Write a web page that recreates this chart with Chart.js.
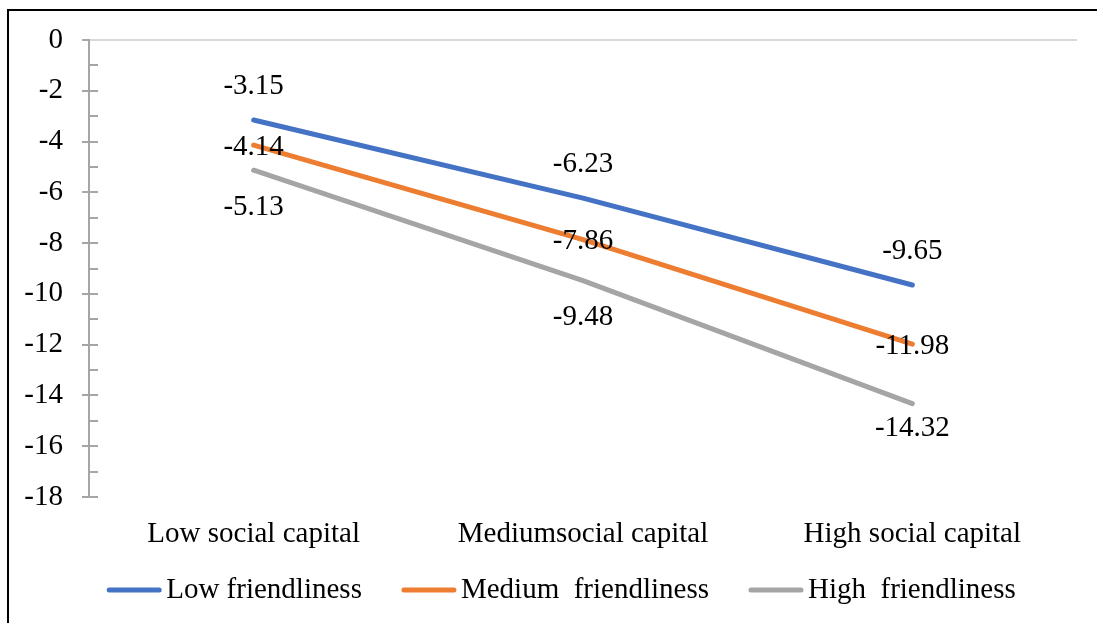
<!DOCTYPE html>
<html>
<head>
<meta charset="utf-8">
<title>Friendliness and social capital</title>
<script src="https://cdn.jsdelivr.net/npm/chart.js@4/dist/chart.umd.min.js"></script>
<style>
  html, body { margin: 0; padding: 0; background: #fff; overflow: hidden; }
  #wrap { position: relative; width: 1097px; height: 623px; overflow: hidden; }
  #frame { position: absolute; left: 7px; top: 9px; width: 1200px; height: 700px;
           border-left: 2px solid #000; border-top: 2px solid #000; }
  #chart { position: absolute; left: 0; top: 0; }
</style>
</head>
<body>
<div id="wrap">
  <div id="frame"></div>
  <canvas id="chart" width="1097" height="623"></canvas>
</div>
<script>
// Categories along the x axis
const categories = ['Low social capital', 'Mediumsocial capital', 'High social capital'];

// One series per friendliness level
const seriesNames = ['Low friendliness', 'Medium  friendliness', 'High  friendliness'];
const lowFriendliness = [-3.15, -6.23, -9.65];
const mediumFriendliness = [-4.14, -7.86, -11.98];
const highFriendliness = [-5.13, -9.48, -14.32];

// Value axis range
const yMin = -18;
const yMax = 0;
const yStep = 2;

const FONT_FAMILY = '"Liberation Serif", "Times New Roman", serif';
const FONT_SIZE = 29;

// Value labels next to each point (above / on / below the line)
const valueLabels = {
  id: 'valueLabels',
  afterDatasetsDraw(chart) {
    const ctx = chart.ctx;
    ctx.save();
    ctx.font = FONT_SIZE + 'px ' + FONT_FAMILY;
    ctx.fillStyle = '#000';
    ctx.textAlign = 'center';
    ctx.textBaseline = 'middle';
    chart.data.datasets.forEach((ds, i) => {
      const meta = chart.getDatasetMeta(i);
      meta.data.forEach((pt, j) => {
        const shift = Array.isArray(ds.labelShift) ? ds.labelShift[j] : ds.labelShift;
        ctx.fillText(ds.data[j].toFixed(2), pt.x, pt.y + shift);
      });
    });
    ctx.restore();
  }
};

// Inner tick marks on the value axis (major and minor)
const axisMarks = {
  id: 'axisMarks',
  beforeDatasetsDraw(chart) {
    const y = chart.scales.y;
    const ctx = chart.ctx;
    const x0 = chart.chartArea.left;
    ctx.save();
    ctx.strokeStyle = '#a6a6a6';
    ctx.lineWidth = 2;
    ctx.beginPath();
    for (let v = y.min; v < y.max; v += 1) {
      const py = Math.round(y.getPixelForValue(v));
      ctx.moveTo(x0, py);
      ctx.lineTo(x0 + 9, py);
    }
    ctx.stroke();
    ctx.restore();
  }
};

// Legend drawn as line samples followed by the series name
const lineLegend = {
  id: 'lineLegend',
  afterDraw(chart) {
    const ctx = chart.ctx;
    ctx.save();
    ctx.font = FONT_SIZE + 'px ' + FONT_FAMILY;
    const sample = 54, gap = 5, spacing = 40;
    const items = chart.data.datasets.map(ds => ({
      ds, tw: ctx.measureText(ds.label).width
    }));
    const total = items.reduce((s, it) => s + sample + gap + it.tw, 0) + spacing * (items.length - 1);
    let x = chart.width / 2 + 13 - total / 2;
    const yc = chart.height - 33;
    ctx.textAlign = 'left';
    ctx.textBaseline = 'middle';
    items.forEach(it => {
      ctx.strokeStyle = it.ds.borderColor;
      ctx.lineWidth = 5;
      ctx.lineCap = 'round';
      ctx.beginPath();
      ctx.moveTo(x + 2, yc);
      ctx.lineTo(x + sample - 2, yc);
      ctx.stroke();
      ctx.fillStyle = '#000';
      ctx.fillText(it.ds.label, x + sample + gap, yc);
      x += sample + gap + it.tw + spacing;
    });
    ctx.restore();
  }
};

function lineSeries(label, data, color, labelShift) {
  return {
    label, data,
    borderColor: color,
    backgroundColor: color,
    borderWidth: 5,
    borderCapStyle: 'round',
    borderJoinStyle: 'round',
    pointRadius: 0,
    pointHoverRadius: 0,
    tension: 0,
    fill: false,
    labelShift
  };
}

new Chart(document.getElementById('chart'), {
  type: 'line',
  data: {
    labels: categories,
    datasets: [
      lineSeries(seriesNames[0], lowFriendliness, '#4472C4', -34),
      lineSeries(seriesNames[1], mediumFriendliness, '#ED7D31', 2),
      lineSeries(seriesNames[2], highFriendliness, '#A5A5A5', [37, 37, 25])
    ]
  },
  options: {
    responsive: false,
    animation: false,
    events: [],
    layout: { padding: { top: 40, right: 20, bottom: 0, left: 0 } },
    plugins: {
      legend: { display: false },
      title: { display: false },
      tooltip: { enabled: false }
    },
    scales: {
      x: {
        type: 'category',
        offset: true,
        grid: { display: false },
        border: { display: false },
        ticks: {
          color: '#000',
          font: { family: FONT_FAMILY, size: FONT_SIZE },
          padding: 12,
          maxRotation: 0,
          autoSkip: false
        },
        afterFit(scale) { scale.height = 126; }
      },
      y: {
        min: yMin,
        max: yMax,
        ticks: {
          stepSize: yStep,
          color: '#000',
          font: { family: FONT_FAMILY, size: FONT_SIZE },
          padding: 19
        },
        grid: {
          color: c => (c.tick && c.tick.value === 0) ? '#d9d9d9' : 'rgba(0,0,0,0)',
          lineWidth: 2,
          tickColor: '#a6a6a6',
          tickLength: 7,
          drawTicks: true
        },
        border: { color: '#a6a6a6', width: 2 },
        afterFit(scale) { scale.width = 89; }
      }
    }
  },
  plugins: [axisMarks, valueLabels, lineLegend]
});
</script>
</body>
</html>
